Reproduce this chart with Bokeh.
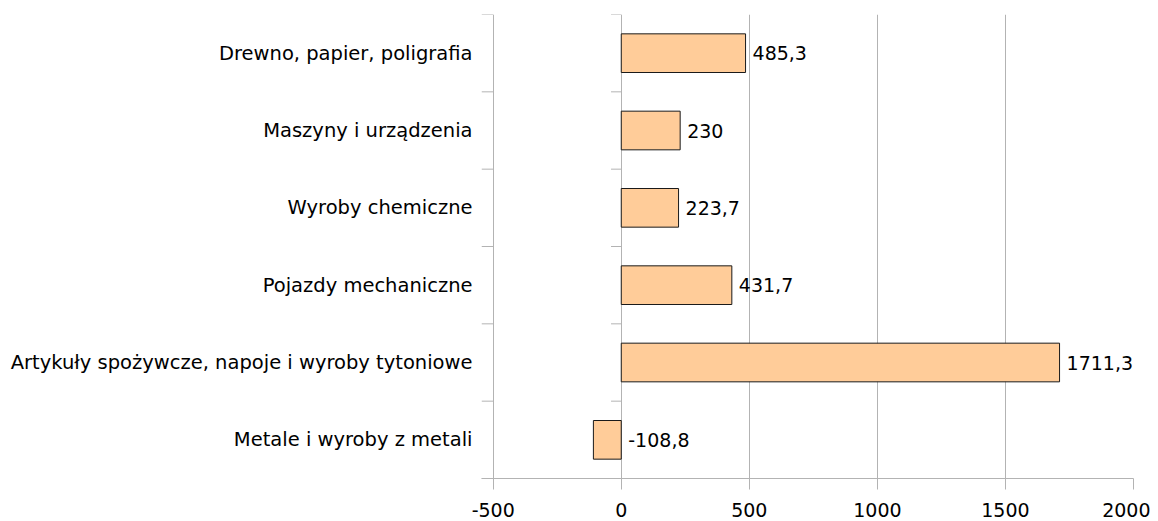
from bokeh.plotting import figure
from bokeh.models import FixedTicker, Range1d, ColumnDataSource
from bokeh.embed import file_html
from bokeh.resources import INLINE

categories = [
    "Drewno, papier, poligrafia",
    "Maszyny i urządzenia",
    "Wyroby chemiczne",
    "Pojazdy mechaniczne",
    "Artykuły spożywcze, napoje i wyroby tytoniowe",
    "Metale i wyroby z metali",
]
values = [485.3, 230, 223.7, 431.7, 1711.3, -108.8]
value_labels = ["485,3", "230", "223,7", "431,7", "1711,3", "-108,8"]
x_ticks = [-500, 0, 500, 1000, 1500, 2000]
x_tick_labels = ["-500", "0", "500", "1000", "1500", "2000"]

FONT = "DejaVu Sans"
FS_CAT = "19.5px"
FS = "19px"
GRID = "#b3b3b3"
n = len(categories)
centers = [n - i - 0.5 for i in range(n)]
label_x = [max(v, 0) for v in values]

p = figure(
    frame_width=652, frame_height=464,
    min_border_left=481, min_border_right=17, min_border_top=14, min_border_bottom=40,
    x_range=Range1d(-545.7, 2000), y_range=Range1d(0, n),
    output_backend="svg", toolbar_location=None,
)
p.outline_line_color = None
p.background_fill_color = "white"

# grid
p.xgrid.ticker = FixedTicker(ticks=x_ticks)
p.xgrid.grid_line_color = GRID
p.ygrid.ticker = FixedTicker(ticks=[0, n])
p.ygrid.grid_line_color = GRID

# x axis
p.xaxis.ticker = FixedTicker(ticks=x_ticks)
p.xaxis.major_label_overrides = {t: s for t, s in zip(x_ticks, x_tick_labels)}
p.xaxis.axis_line_color = GRID
p.xaxis.major_tick_line_color = GRID
p.xaxis.major_tick_out = 11
p.xaxis.major_tick_in = 0
p.xaxis.minor_tick_line_color = None
p.xaxis.major_label_text_font = FONT
p.xaxis.major_label_text_font_size = FS
p.xaxis.major_label_text_color = "black"
p.xaxis.major_label_standoff = 13

# y axis
p.yaxis.ticker = FixedTicker(ticks=centers)
p.yaxis.major_label_overrides = {c: name for c, name in zip(centers, categories)}
p.yaxis.axis_line_color = None
p.yaxis.major_tick_line_color = None
p.yaxis.major_tick_out = 0
p.yaxis.major_tick_in = 0
p.yaxis.minor_tick_line_color = None
p.yaxis.major_label_text_font = FONT
p.yaxis.major_label_text_font_size = FS_CAT
p.yaxis.major_label_text_color = "black"
p.yaxis.major_label_standoff = 9

# boundary ticks on category axis
bounds = list(range(n + 1))
p.segment(x0=[-545.7] * len(bounds), x1=[-500] * len(bounds), y0=bounds, y1=bounds,
          line_color=GRID, line_width=1)
p.segment(x0=[-40] * len(bounds), x1=[0] * len(bounds), y0=bounds, y1=bounds,
          line_color=GRID, line_width=1)

src = ColumnDataSource(dict(y=centers, v=values, lx=label_x, t=value_labels))
p.hbar(y="y", left=0, right="v", height=0.5, source=src,
       fill_color="#ffcc99", line_color="#1a1a1a", line_width=1)
p.text(x="lx", y="y", text="t", source=src, x_offset=7,
       text_baseline="middle", text_align="left",
       text_font={"value": FONT}, text_font_size={"value": FS}, text_color="black")

open("out.html", "w").write(file_html(p, INLINE))
